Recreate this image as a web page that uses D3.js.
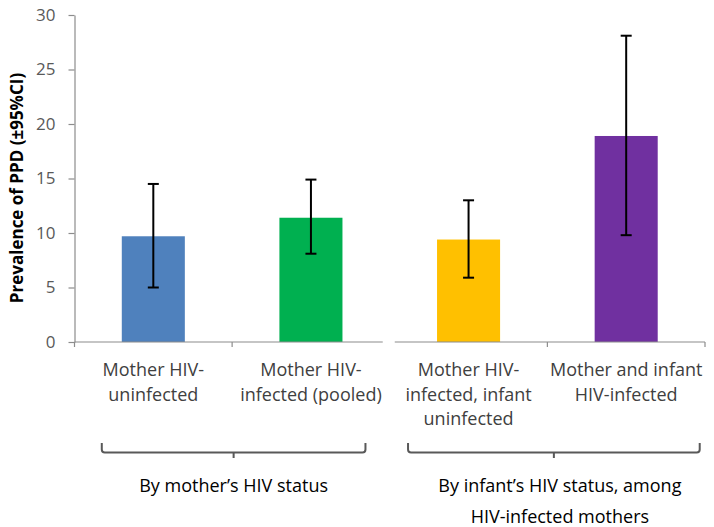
<!DOCTYPE html>
<html><head><meta charset="utf-8">
<script src="https://cdn.jsdelivr.net/npm/d3@7"></script>
<style>body{margin:0;background:#fff} svg{display:block}</style>
</head><body><svg id="chart" width="714" height="527"></svg>
<script>
// ---- data ----
const categories = [
  ["Mother HIV-", "uninfected"],
  ["Mother HIV-", "infected (pooled)"],
  ["Mother HIV-", "infected, infant", "uninfected"],
  ["Mother and infant", "HIV-infected"]
];
const prevalence = [9.7, 11.4, 9.4, 18.9];
const ciLower = [5.0, 8.1, 5.9, 9.8];
const ciUpper = [14.5, 14.9, 13.0, 28.1];
const barColors = ["#4F81BD", "#00B050", "#FFC000", "#7030A0"];
const yTicks = [0, 5, 10, 15, 20, 25, 30];
const yTitle = "Prevalence of PPD (±95%CI)";
const groupMembers = [[0, 1], [2, 3]];
const groupLabels = [
  ["By mother’s HIV status"],
  ["By infant’s HIV status, among", "HIV-infected mothers"]
];

// ---- layout ----
const FONT = "'Open Sans', Lato, sans-serif";
const svg = d3.select("#chart");
const x = d3.scaleBand().domain(d3.range(categories.length))
  .range([74.5, 705]).paddingInner(0.6).paddingOuter(0.3);
const y = d3.scaleLinear().domain([0, 30]).range([342, 15]);
const bw = x.bandwidth(), step = x.step();

// bars
svg.append("g").selectAll("rect").data(prevalence).join("rect")
  .attr("x", (d, i) => x(i)).attr("width", bw)
  .attr("y", d => y(d)).attr("height", d => y(0) - y(d))
  .attr("fill", (d, i) => barColors[i]);

// error bars
const eb = svg.append("g").attr("stroke", "#000").attr("stroke-width", 2);
prevalence.forEach((d, i) => {
  const cx = x(i) + bw / 2;
  eb.append("line").attr("x1", cx).attr("x2", cx).attr("y1", y(ciLower[i])).attr("y2", y(ciUpper[i]));
  eb.append("line").attr("x1", cx - 5.5).attr("x2", cx + 5.5).attr("y1", y(ciLower[i])).attr("y2", y(ciLower[i]));
  eb.append("line").attr("x1", cx - 5.5).attr("x2", cx + 5.5).attr("y1", y(ciUpper[i])).attr("y2", y(ciUpper[i]));
});

// y axis
const yAxis = svg.append("g").attr("transform", `translate(${x.range()[0]},0)`)
  .call(d3.axisLeft(y).tickValues(yTicks).tickSize(6).tickSizeOuter(0).tickPadding(13));
yAxis.selectAll("path,line").attr("stroke", "#8c8c8c").attr("stroke-width", 1.2);
yAxis.selectAll("text").attr("fill", "#595959").style("font-family", FONT).style("font-size", "17px");

// x axis segments per group
const axG = svg.append("g").attr("stroke", "#8c8c8c").attr("stroke-width", 1.2);
groupMembers.forEach((m, gi) => {
  const start = x(m[0]) - step * 0.3;
  const end = x(m[m.length - 1]) + bw + step * 0.3;
  const a = gi === 0 ? start : start + 5;
  const b = gi === 0 ? end - 7 : end;
  axG.append("line").attr("x1", a).attr("x2", b).attr("y1", y(0)).attr("y2", y(0));
  const ticks = [];
  if (gi === 0) ticks.push(start);
  for (let k = 0; k < m.length - 1; k++) ticks.push((x(m[k]) + bw + x(m[k + 1])) / 2);
  if (gi === groupMembers.length - 1) ticks.push(end);
  ticks.forEach(t => axG.append("line").attr("x1", t).attr("x2", t).attr("y1", y(0)).attr("y2", y(0) + 5));
});

// category labels
categories.forEach((lines, i) => {
  const t = svg.append("text").attr("text-anchor", "middle")
    .attr("fill", "#404040").style("font-family", FONT).style("font-size", "18px");
  lines.forEach((s, k) => t.append("tspan").attr("x", x(i) + bw / 2).attr("y", 376 + k * 24.7).text(s));
});

// group brackets
const bracketInset = [[-20, 23], [-29, 42]];
const labelShift = [0, 6];
const br = svg.append("g").attr("stroke", "#595959").attr("stroke-width", 2).attr("fill", "none");
groupMembers.forEach((m, gi) => {
  const x1 = x(m[0]) + bracketInset[gi][0];
  const x2 = x(m[m.length - 1]) + bw + bracketInset[gi][1];
  const mid = (x1 + x2) / 2, by = 452.5;
  br.append("path").attr("d",
    `M${x1},443 L${x1},${by - 3} Q${x1},${by} ${x1 + 3},${by} L${x2 - 3},${by} Q${x2},${by} ${x2},${by - 3} L${x2},443 M${mid},${by} L${mid},458`);
  const t = svg.append("text").attr("text-anchor", "middle").attr("fill", "#000")
    .style("font-family", FONT).style("font-size", "18px");
  groupLabels[gi].forEach((s, k) => t.append("tspan").attr("x", mid + labelShift[gi]).attr("y", 492 + k * 31).text(s));
});

// y title
svg.append("text").attr("transform", "translate(23,188) rotate(-90)")
  .attr("text-anchor", "middle").attr("font-weight", "bold").attr("fill", "#000")
  .style("font-family", FONT).style("font-size", "17px").text(yTitle);
</script>
</body></html>
